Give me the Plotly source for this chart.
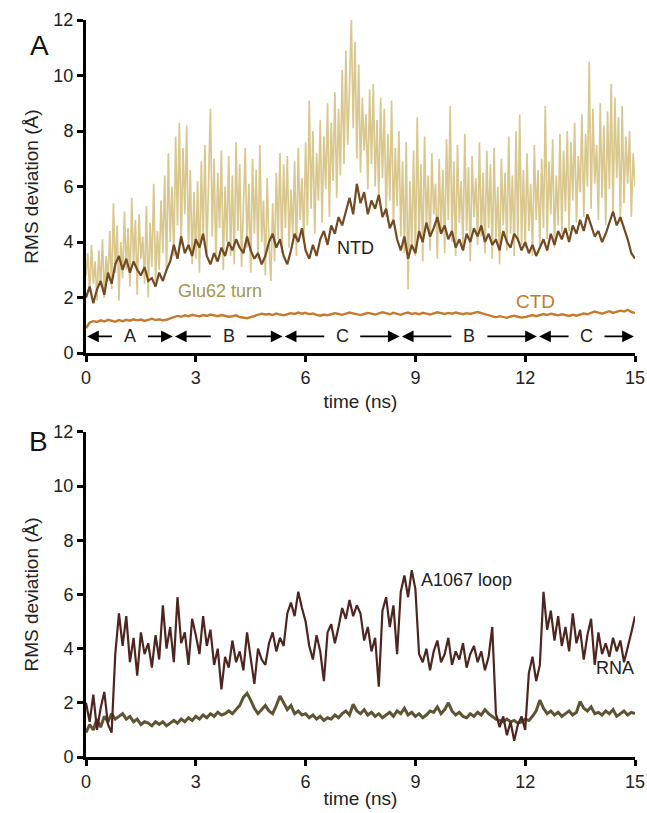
import numpy as np
import plotly.graph_objects as go

# ---------------- data ----------------
# Panel A, Glu62 turn (sampled every 0.05 ns)
glu62_turn = [
    2.8, 3.6, 2.2, 3.9, 2.5, 3.3, 1.9, 3.7, 2.4, 4.1, 2.0, 3.5, 2.6, 4.4, 2.3, 5.4, 2.9, 4.6, 1.9, 4.0,
    2.7, 5.1, 3.0, 4.5, 2.4, 5.6, 3.2, 4.8, 2.1, 5.0, 3.4, 4.2, 2.5, 5.3, 2.0, 4.7, 3.1, 6.1, 2.6, 4.4,
    3.0, 5.5, 3.6, 6.4, 2.9, 7.2, 4.0, 6.0, 3.5, 7.8, 4.6, 8.3, 3.9, 7.4, 5.0, 8.2, 3.7, 6.6, 3.2, 5.8,
    3.4, 6.2, 2.9, 6.9, 4.1, 7.5, 3.6, 5.9, 8.8, 4.2, 7.0, 3.3, 6.5, 4.5, 7.3, 3.0, 6.0, 4.0, 7.1, 3.5,
    6.4, 3.2, 7.6, 4.4, 6.8, 3.1, 5.7, 7.4, 3.8, 6.1, 2.9, 7.0, 4.3, 6.6, 3.4, 7.5, 4.0, 5.5, 2.8, 6.3,
    3.9, 2.6, 5.4, 3.3, 6.5, 4.1, 7.2, 3.6, 6.8, 4.5, 7.1, 3.8, 5.9, 4.2, 6.9, 3.5, 7.4, 4.8, 6.3, 4.0,
    7.6, 4.6, 9.1, 5.2, 8.0, 4.3, 7.2, 5.5, 8.4, 4.7, 7.8, 5.9, 9.0, 4.9, 8.3, 6.2, 9.4, 5.6, 8.8, 6.4,
    10.2, 6.8, 10.9, 7.5, 9.6, 12.0, 8.1, 11.2, 7.0, 10.4, 6.5, 9.2, 7.3, 8.6, 5.9, 9.5, 6.8, 9.7, 6.0, 8.4,
    5.6, 9.2, 6.3, 8.8, 4.9, 7.9, 5.5, 9.1, 4.6, 7.4, 5.3, 8.0, 4.2, 6.9, 3.6, 7.6, 2.3, 6.2, 3.8, 7.3,
    3.5, 8.5, 4.1, 6.8, 3.3, 7.8, 4.6, 6.4, 3.7, 7.2, 5.0, 6.1, 3.4, 7.0, 4.3, 6.6, 3.6, 7.7, 4.8, 8.9,
    4.0, 6.9, 3.5, 7.5, 4.7, 6.2, 3.8, 7.9, 4.4, 6.7, 3.3, 7.1, 4.9, 6.3, 3.9, 7.6, 4.2, 6.5, 3.6, 7.3,
    4.5, 6.8, 3.4, 7.4, 4.1, 6.0, 3.2, 7.0, 4.6, 6.5, 3.7, 7.8, 4.3, 6.4, 3.5, 8.0, 4.0, 8.6, 3.9, 6.6,
    3.8, 7.2, 4.4, 6.1, 3.5, 7.5, 4.8, 6.6, 3.9, 7.0, 4.5, 8.9, 4.1, 6.9, 5.0, 7.7, 3.8, 6.4, 4.6, 7.9,
    4.3, 7.3, 5.1, 8.0, 4.4, 7.6, 5.5, 8.3, 4.7, 7.1, 5.8, 8.6, 4.9, 7.9, 6.0, 10.5, 5.2, 8.8, 6.1, 7.5,
    4.8, 9.0, 5.6, 8.2, 4.6, 8.7, 5.9, 9.7, 5.0, 9.2, 6.3, 8.5, 4.7, 8.9, 5.4, 7.8, 6.1, 8.0, 4.9, 7.2,
    6.0,
]

# Panel A, NTD (every 0.1 ns)
ntd = [
    2.0, 2.4, 1.8, 2.3, 2.6, 2.1, 2.9, 2.5, 3.2, 3.5,
    3.0, 3.4, 2.9, 3.3, 3.0, 2.8, 3.1, 2.6, 2.7, 2.4,
    2.9, 2.6, 3.0, 3.3, 3.9, 3.4, 4.2, 3.6, 3.9, 3.5,
    4.1, 3.8, 4.3, 3.5, 3.2, 3.6, 3.3, 3.8, 3.5, 4.0,
    3.7, 4.1, 3.8, 3.6, 4.2, 3.7, 3.4, 3.6, 3.2, 3.5,
    4.0, 4.3, 3.8, 4.1, 3.5, 3.2, 3.7, 4.3, 4.0, 4.5,
    3.7, 3.4, 3.9, 3.5, 4.1, 4.4, 3.9, 4.6, 4.3, 4.9,
    4.6, 5.1, 5.6, 5.0, 6.1, 5.4, 5.8, 5.0, 5.5, 5.2,
    5.7, 4.9, 5.2, 4.5, 4.8, 4.1, 3.7, 4.2, 3.4, 3.9,
    3.6, 4.4, 4.0, 4.7, 4.2, 4.5, 4.9, 4.3, 4.6, 4.1,
    4.4, 3.8, 4.1, 3.7, 4.3, 4.0, 4.5, 4.2, 4.6, 4.0,
    4.3, 3.9, 4.1, 3.7, 4.4, 4.0, 3.8, 4.3, 4.1, 3.7,
    4.0, 3.6, 3.9, 3.5, 3.8, 4.1, 3.7, 4.3, 3.9, 4.4,
    4.1, 4.5, 4.0, 4.6, 4.3, 4.8, 4.4, 5.0, 4.6, 4.2,
    4.4, 4.0, 4.3, 4.7, 5.1, 4.6, 4.9, 4.5, 4.1, 3.6,
    3.4,
]

# Panel A, CTD (every 0.1 ns)
ctd = [
    0.9, 1.1, 1.15, 1.12, 1.18, 1.14, 1.2, 1.16, 1.13, 1.19,
    1.15, 1.2, 1.17, 1.22, 1.18, 1.21, 1.16, 1.2, 1.24, 1.19,
    1.22, 1.18, 1.2, 1.25, 1.3, 1.34, 1.31, 1.36, 1.33, 1.38,
    1.35, 1.32, 1.37, 1.34, 1.39, 1.35, 1.33, 1.37, 1.34, 1.31,
    1.33, 1.36, 1.3, 1.28, 1.26, 1.3, 1.34, 1.38, 1.42, 1.39,
    1.41, 1.37, 1.43, 1.39, 1.36, 1.4, 1.44, 1.41, 1.46, 1.42,
    1.45, 1.4, 1.43, 1.38, 1.35, 1.39, 1.36, 1.4, 1.44, 1.41,
    1.38, 1.42, 1.46, 1.43, 1.4, 1.37, 1.41, 1.45, 1.42, 1.39,
    1.43, 1.47, 1.44, 1.4, 1.45, 1.42, 1.38, 1.43, 1.46, 1.41,
    1.44, 1.4, 1.45, 1.42, 1.39, 1.43, 1.47, 1.44, 1.41, 1.45,
    1.42, 1.46, 1.43, 1.4, 1.44, 1.41, 1.45, 1.48, 1.44, 1.4,
    1.35, 1.31, 1.29, 1.33, 1.3, 1.27, 1.32, 1.35, 1.31, 1.28,
    1.3, 1.34, 1.37, 1.33, 1.38, 1.41, 1.37, 1.42, 1.39, 1.36,
    1.4, 1.37, 1.34, 1.38, 1.35, 1.39, 1.43, 1.4, 1.45, 1.5,
    1.46, 1.42, 1.47, 1.51, 1.45, 1.49, 1.53, 1.5, 1.56, 1.48,
    1.45,
]

# Panel B, A1067 loop (every 0.1 ns)
a1067_loop = [
    2.0, 1.3, 2.3, 1.0, 1.8, 2.4, 1.2, 0.9, 3.8, 5.3,
    4.1, 5.2, 3.5, 4.4, 3.0, 4.6, 3.8, 4.2, 3.3, 4.5,
    3.6, 5.6, 4.0, 4.8, 3.5, 5.9, 4.2, 4.6, 3.4, 5.1,
    4.5, 3.8, 5.2, 4.1, 4.7, 3.4, 4.0, 2.5, 3.7, 3.3,
    4.3, 3.5, 3.9, 3.2, 4.6, 3.7, 2.7, 4.0, 3.6, 3.4,
    4.2, 4.6, 3.9, 4.4, 4.1, 5.3, 5.7, 5.2, 6.1, 5.5,
    5.0, 4.1, 3.6, 4.5, 3.9, 2.8, 4.6, 4.9, 4.2, 4.8,
    5.5, 5.1, 5.8, 5.2, 5.6, 5.3, 4.3, 4.8, 3.9, 4.4,
    2.6, 5.4, 5.9, 4.8, 5.6, 3.8, 6.1, 6.7, 5.9, 6.9,
    6.2, 3.8, 3.5, 4.0, 3.2, 3.9, 4.3, 3.5, 3.8, 4.4,
    3.4, 3.9, 3.6, 4.2, 3.3, 3.8, 4.1, 3.5, 3.9, 3.2,
    3.7, 4.8, 1.6, 1.1, 1.5, 0.8, 1.3, 0.6, 1.2, 1.5,
    1.0, 3.1, 3.7, 2.8, 3.4, 6.1, 4.7, 5.4, 4.3, 5.2,
    4.1, 4.8, 3.9, 5.3, 4.2, 4.7, 3.6, 4.5, 5.1, 3.4,
    4.6, 3.8, 4.2, 3.7, 4.4, 3.9, 4.3, 3.5, 4.0, 4.6,
    5.2,
]

# Panel B, RNA (every 0.1 ns)
rna = [
    0.9, 1.2, 1.0, 1.4, 1.1, 1.5, 1.3, 1.6, 1.4, 1.5,
    1.6, 1.4, 1.5, 1.3, 1.4, 1.2, 1.3, 1.25, 1.15, 1.3,
    1.2, 1.3, 1.15, 1.25, 1.35, 1.25, 1.4, 1.3, 1.45, 1.35,
    1.5, 1.4, 1.55, 1.45, 1.6, 1.5, 1.65, 1.55, 1.6, 1.7,
    1.6, 1.75, 1.9, 2.2, 2.35, 2.1, 1.8, 1.6, 1.75, 1.9,
    1.7, 1.6, 1.9, 2.25, 2.0, 1.75, 1.9, 1.6, 1.7, 1.55,
    1.6, 1.45, 1.55, 1.4, 1.5, 1.35, 1.45, 1.4, 1.55, 1.45,
    1.6, 1.7, 1.55, 1.95, 1.7, 1.6, 1.75, 1.55, 1.65, 1.5,
    1.6, 1.45, 1.55, 1.65, 1.5, 1.7, 1.6, 1.8, 1.55, 1.65,
    1.5, 1.6, 1.45, 1.55, 1.7, 1.65, 1.85, 1.6, 1.75, 2.0,
    1.7, 1.55, 1.65, 1.5, 1.45, 1.6, 1.5, 1.65, 1.55, 1.75,
    1.6, 1.5, 1.4, 1.35, 1.3, 1.4, 1.3, 1.35, 1.25, 1.3,
    1.4, 1.35, 1.5, 1.7, 2.1, 1.8, 1.6, 1.7, 1.55, 1.65,
    1.5, 1.6, 1.7, 1.55, 1.65, 2.05, 1.8, 1.7, 1.85, 1.6,
    1.65, 1.55, 1.7, 1.6, 1.75, 1.5, 1.6, 1.7, 1.55, 1.65,
    1.6,
]

# Simulation phases marked under panel A
phase_labels = ["A", "B", "C", "B", "C"]
phase_bounds = [0.0, 2.4, 5.4, 8.6, 12.35, 15.0]

x_ticks = [0, 3, 6, 9, 12, 15]
y_ticks = [0, 2, 4, 6, 8, 10, 12]

t_fine = np.linspace(0, 15, len(glu62_turn))
t_ntd = np.linspace(0, 15, len(ntd))
t_ctd = np.linspace(0, 15, len(ctd))
t_loop = np.linspace(0, 15, len(a1067_loop))
t_rna = np.linspace(0, 15, len(rna))

FONT = "Liberation Sans, Arial, Helvetica, sans-serif"
C_TAN = "#d9c78e"
C_NTD = "#734a22"
C_CTD = "#c57a2c"
C_GLU = "#a8944a"
C_LOOP = "#4f251f"
C_RNA = "#5e5433"

fig = go.Figure()
fig.add_trace(go.Scatter(x=t_fine, y=glu62_turn, mode="lines", line=dict(color=C_TAN, width=1.7),
                         xaxis="x", yaxis="y", showlegend=False, hoverinfo="skip"))
fig.add_trace(go.Scatter(x=t_ntd, y=ntd, mode="lines", line=dict(color=C_NTD, width=2.2),
                         xaxis="x", yaxis="y", showlegend=False, hoverinfo="skip"))
fig.add_trace(go.Scatter(x=t_ctd, y=ctd, mode="lines", line=dict(color=C_CTD, width=2.4),
                         xaxis="x", yaxis="y", showlegend=False, hoverinfo="skip"))
fig.add_trace(go.Scatter(x=t_rna, y=rna, mode="lines", line=dict(color=C_RNA, width=3),
                         xaxis="x2", yaxis="y2", showlegend=False, hoverinfo="skip"))
fig.add_trace(go.Scatter(x=t_loop, y=a1067_loop, mode="lines", line=dict(color=C_LOOP, width=2.2),
                         xaxis="x2", yaxis="y2", showlegend=False, hoverinfo="skip"))

axis_common = dict(
    showline=True, linewidth=3, linecolor="black", ticks="outside", ticklen=6, tickwidth=3,
    tickcolor="black", showgrid=False, zeroline=False, automargin=False,
    tickfont=dict(family=FONT, size=18, color="#222"),
)
title_font = dict(family=FONT, size=19, color="#222")

annotations = []
# phase arrows
gap = 0.45
y_arrow = 0.6
for i, lab in enumerate(phase_labels):
    a, b = phase_bounds[i], phase_bounds[i + 1]
    m = (a + b) / 2
    annotations.append(dict(x=m, y=y_arrow, xref="x", yref="y", text=lab, showarrow=False,
                            font=dict(family=FONT, size=18, color="#222")))
    for end, start in ((a + 0.03, m - gap), (b - 0.03, m + gap)):
        annotations.append(dict(x=end, y=y_arrow, ax=start, ay=y_arrow, xref="x", yref="y",
                                axref="x", ayref="y", text="", showarrow=True,
                                arrowhead=2, arrowsize=1.3, arrowwidth=1.8, arrowcolor="black",
                                standoff=0, startstandoff=0))

# series labels
annotations += [
    dict(x=3.66, y=2.25, xref="x", yref="y", text="Glu62 turn", showarrow=False,
         font=dict(family=FONT, size=18, color=C_GLU)),
    dict(x=7.35, y=3.8, xref="x", yref="y", text="NTD", showarrow=False,
         font=dict(family=FONT, size=18, color="#222")),
    dict(x=12.27, y=1.85, xref="x", yref="y", text="CTD", showarrow=False,
         font=dict(family=FONT, size=19, color=C_CTD)),
    dict(x=10.4, y=6.55, xref="x2", yref="y2", text="A1067 loop", showarrow=False,
         font=dict(family=FONT, size=18, color="#222")),
    dict(x=14.45, y=3.3, xref="x2", yref="y2", text="RNA", showarrow=False,
         font=dict(family=FONT, size=18, color="#222")),
    dict(x=-0.106, y=0.989, xref="paper", yref="paper", text="A", showarrow=False,
         font=dict(family=FONT, size=28, color="#111")),
    dict(x=-0.108, y=0.428, xref="paper", yref="paper", text="B", showarrow=False,
         font=dict(family=FONT, size=28, color="#111")),
]

fig.update_layout(
    width=647, height=813,
    margin=dict(l=86, r=12, t=20, b=56, autoexpand=False),
    paper_bgcolor="white", plot_bgcolor="white",
    font=dict(family=FONT),
    xaxis=dict(domain=[0, 1], anchor="y", range=[0, 15], tickvals=x_ticks,
               title=dict(text="time (ns)", font=title_font, standoff=8), **axis_common),
    yaxis=dict(domain=[0.548, 1], anchor="x", range=[0, 12], tickvals=y_ticks,
               title=dict(text="RMS deviation (Å)", font=title_font, standoff=10), **axis_common),
    xaxis2=dict(domain=[0, 1], anchor="y2", range=[0, 15], tickvals=x_ticks,
                title=dict(text="time (ns)", font=title_font, standoff=2), **axis_common),
    yaxis2=dict(domain=[0, 0.441], anchor="x2", range=[0, 12], tickvals=y_ticks,
                title=dict(text="RMS deviation (Å)", font=title_font, standoff=10), **axis_common),
    annotations=annotations,
)

# remove the default page margin so the 647x813 figure fills the window exactly
fig.write_html("out.html",
               config={"displayModeBar": False},
               post_script="document.body.style.margin='0';document.body.style.overflow='hidden';")
